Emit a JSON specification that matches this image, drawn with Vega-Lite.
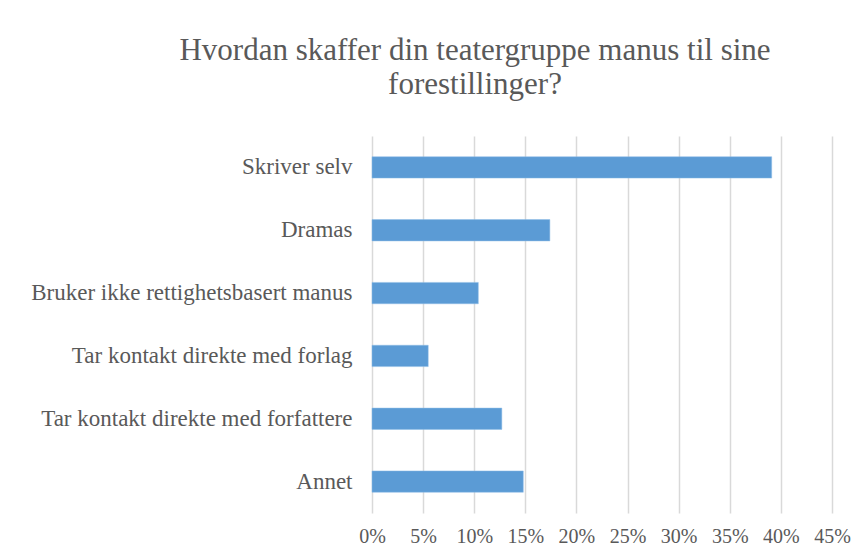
{
  "$schema": "https://vega.github.io/schema/vega-lite/v6.json",
  "autosize": {"type": "none"},
  "width": 460,
  "height": 377,
  "padding": {"left": 372, "top": 136, "right": 32, "bottom": 47},
  "background": "white",
  "title": {
    "text": ["Hvordan skaffer din teatergruppe manus til sine", "forestillinger?"],
    "font": "Liberation Serif",
    "fontSize": 31,
    "fontWeight": "normal",
    "color": "#595959",
    "lineHeight": 34,
    "anchor": "middle",
    "frame": "group",
    "dx": -127,
    "offset": 35
  },
  "data": {
    "values": [
      {"kategori": "Skriver selv", "andel": 0.391},
      {"kategori": "Dramas", "andel": 0.174},
      {"kategori": "Bruker ikke rettighetsbasert manus", "andel": 0.104},
      {"kategori": "Tar kontakt direkte med forlag", "andel": 0.055},
      {"kategori": "Tar kontakt direkte med forfattere", "andel": 0.127},
      {"kategori": "Annet", "andel": 0.148}
    ]
  },
  "mark": {"type": "bar", "color": "#5B9BD5", "stroke": "#8FBCE6", "strokeWidth": 0.5},
  "encoding": {
    "y": {
      "field": "kategori",
      "type": "nominal",
      "sort": null,
      "scale": {"paddingInner": 0.66, "paddingOuter": 0.33},
      "axis": {
        "title": null,
        "domain": false,
        "ticks": false,
        "grid": false,
        "labelPadding": 20,
        "labelFont": "Liberation Serif",
        "labelFontSize": 23,
        "labelColor": "#595959",
        "labelLimit": 400
      }
    },
    "x": {
      "field": "andel",
      "type": "quantitative",
      "scale": {"domain": [0, 0.45], "nice": false},
      "axis": {
        "title": null,
        "format": ".0%",
        "values": [0, 0.05, 0.1, 0.15, 0.2, 0.25, 0.3, 0.35, 0.4, 0.45],
        "domain": false,
        "ticks": false,
        "grid": true,
        "gridColor": "#D9D9D9",
        "gridWidth": 1.5,
        "labelPadding": 13,
        "labelFont": "Liberation Serif",
        "labelFontSize": 20,
        "labelColor": "#595959",
        "labelFlush": false
      }
    }
  },
  "config": {"view": {"stroke": null}}
}
